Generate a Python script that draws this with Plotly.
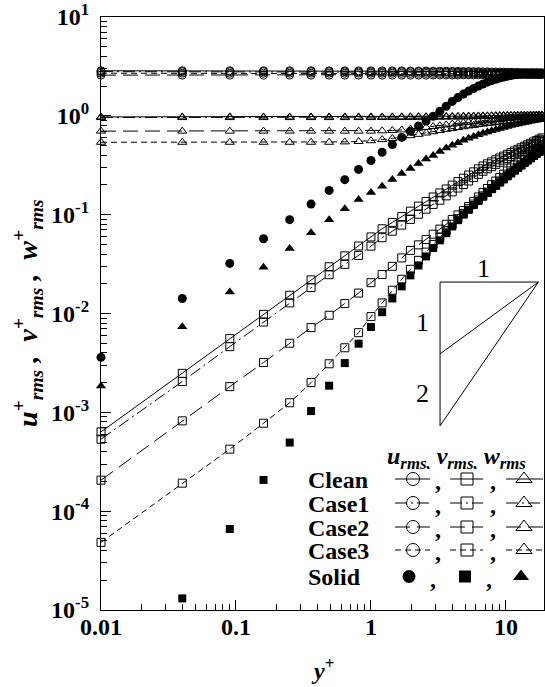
import plotly.graph_objects as go

# ---------------- data ----------------
y_plus = [0.01, 0.04, 0.09, 0.16, 0.25, 0.36, 0.49, 0.64, 0.81, 1.00,
          1.21, 1.44, 1.69, 1.96, 2.25, 2.56, 2.89, 3.24, 3.61, 4.00,
          4.41, 4.84, 5.29, 5.76, 6.25, 6.76, 7.29, 7.84, 8.41, 9.00,
          9.61, 10.24, 10.89, 11.56, 12.25, 12.96, 13.69, 14.44, 15.21, 16.00,
          16.81, 17.64, 18.49, 19.36]

u_clean = [2.86, 2.86, 2.86, 2.86, 2.86, 2.86, 2.85, 2.85, 2.85, 2.85, 2.85, 2.85, 2.85, 2.84,
           2.84, 2.84, 2.83, 2.83, 2.83, 2.82, 2.82, 2.81, 2.81, 2.80, 2.80,
           2.79, 2.79, 2.78, 2.78, 2.77, 2.77, 2.76, 2.76, 2.75, 2.75,
           2.74, 2.74, 2.73, 2.73, 2.72, 2.72, 2.71, 2.71, 2.70]
u_case1 = [2.80, 2.80, 2.80, 2.80, 2.80, 2.80, 2.80, 2.79, 2.79, 2.79, 2.79, 2.79, 2.79, 2.79,
           2.79, 2.78, 2.78, 2.77, 2.77, 2.76, 2.76, 2.75, 2.75, 2.74, 2.74,
           2.73, 2.73, 2.72, 2.72, 2.71, 2.71, 2.70, 2.70, 2.69, 2.69,
           2.69, 2.68, 2.68, 2.68, 2.67, 2.67, 2.67, 2.66, 2.66]
u_case2 = [2.58, 2.58, 2.58, 2.58, 2.58, 2.58, 2.58, 2.58, 2.58, 2.58, 2.58, 2.58, 2.58, 2.58,
           2.58, 2.58, 2.59, 2.59, 2.59, 2.59, 2.59, 2.60, 2.60, 2.60, 2.60,
           2.61, 2.61, 2.61, 2.61, 2.62, 2.62, 2.62, 2.62, 2.62, 2.62,
           2.62, 2.62, 2.62, 2.62, 2.62, 2.62, 2.62, 2.62, 2.62]
u_case3 = [2.70, 2.70, 2.70, 2.70, 2.70, 2.70, 2.70, 2.70, 2.70, 2.70, 2.70, 2.70, 2.69, 2.69,
           2.69, 2.69, 2.69, 2.68, 2.68, 2.68, 2.68, 2.68, 2.67, 2.67, 2.67,
           2.67, 2.66, 2.66, 2.66, 2.66, 2.66, 2.65, 2.65, 2.65, 2.65,
           2.65, 2.65, 2.64, 2.64, 2.64, 2.64, 2.64, 2.64, 2.64]
u_solid = [0.0036, 0.0142, 0.0321, 0.057, 0.089, 0.128, 0.176, 0.226, 0.287, 0.353,
           0.428, 0.513, 0.605, 0.698, 0.79, 0.885, 0.99, 1.11, 1.25, 1.40,
           1.53, 1.66, 1.78, 1.89, 2.00, 2.10, 2.19, 2.27, 2.34, 2.41,
           2.47, 2.52, 2.56, 2.60, 2.63, 2.66, 2.68, 2.70, 2.71, 2.72,
           2.72, 2.72, 2.71, 2.70]

v_clean = [6.34e-4, 2.48e-3, 5.57e-3, 9.8e-3, 0.0153, 0.0219, 0.0297, 0.0383, 0.0482, 0.0595,
           0.072, 0.0835, 0.0956, 0.1085, 0.122, 0.136, 0.151, 0.166, 0.182, 0.199,
           0.216, 0.234, 0.252, 0.271, 0.291, 0.311, 0.327, 0.342, 0.359, 0.375,
           0.391, 0.407, 0.424, 0.441, 0.458, 0.475, 0.492, 0.509, 0.527, 0.545,
           0.562, 0.580, 0.598, 0.616]
v_case1 = [5.35e-4, 2.05e-3, 4.62e-3, 8.2e-3, 0.0128, 0.0183, 0.0247, 0.0314, 0.0387, 0.048,
           0.0585, 0.068, 0.0784, 0.0895, 0.101, 0.1136, 0.127, 0.140, 0.155, 0.170,
           0.186, 0.202, 0.219, 0.237, 0.256, 0.275, 0.291, 0.306, 0.323, 0.339,
           0.356, 0.371, 0.388, 0.405, 0.421, 0.438, 0.456, 0.473, 0.492, 0.510,
           0.528, 0.547, 0.566, 0.585]
v_case2 = [2.06e-4, 8.2e-4, 1.82e-3, 3.19e-3, 5.0e-3, 7.2e-3, 9.6e-3, 0.0126, 0.0161, 0.0205,
           0.0248, 0.030, 0.0365, 0.0435, 0.0495, 0.056, 0.0635, 0.0715, 0.080, 0.0895,
           0.0995, 0.110, 0.121, 0.136, 0.151, 0.167, 0.184, 0.201, 0.219, 0.238,
           0.257, 0.277, 0.297, 0.318, 0.339, 0.360, 0.382, 0.404, 0.426, 0.448,
           0.470, 0.493, 0.515, 0.538]
v_case3 = [4.83e-5, 1.92e-4, 4.24e-4, 7.76e-4, 1.25e-3, 2.0e-3, 3.1e-3, 4.5e-3, 6.4e-3, 0.0093,
           0.0128, 0.0172, 0.0222, 0.028, 0.0345, 0.0418, 0.050, 0.059, 0.069, 0.080,
           0.091, 0.103, 0.115, 0.128, 0.141, 0.155, 0.169, 0.184, 0.199, 0.215,
           0.231, 0.248, 0.265, 0.283, 0.301, 0.319, 0.338, 0.357, 0.376, 0.396,
           0.416, 0.436, 0.456, 0.476]
v_solid = [None, 1.31e-5, 6.6e-5, 2.07e-4, 4.95e-4, 1.03e-3, 1.86e-3, 3.15e-3, 4.95e-3, 7.3e-3,
           0.0103, 0.0142, 0.0188, 0.0243, 0.0306, 0.0378, 0.046, 0.055, 0.065, 0.076,
           0.088, 0.100, 0.112, 0.125, 0.138, 0.152, 0.166, 0.181, 0.196, 0.212,
           0.228, 0.245, 0.262, 0.280, 0.298, 0.316, 0.335, 0.354, 0.373, 0.393,
           0.413, 0.433, 0.453, 0.473]

w_clean = [0.975, 0.975, 0.975, 0.975, 0.975, 0.975, 0.975, 0.975, 0.975, 0.975,
           0.976, 0.977, 0.978, 0.979, 0.980, 0.981, 0.982, 0.984, 0.986, 0.988,
           0.990, 0.992, 0.994, 0.996, 0.998, 1.000, 1.002, 1.004, 1.006, 1.008,
           1.010, 1.012, 1.013, 1.014, 1.015, 1.016, 1.017, 1.018, 1.019, 1.020,
           1.021, 1.022, 1.023, 1.024]
w_case1 = [0.960, 0.960, 0.960, 0.960, 0.960, 0.960, 0.960, 0.960, 0.960, 0.960,
           0.961, 0.962, 0.963, 0.964, 0.965, 0.966, 0.967, 0.969, 0.971, 0.973,
           0.975, 0.977, 0.979, 0.981, 0.983, 0.985, 0.987, 0.989, 0.991, 0.993,
           0.995, 0.997, 0.998, 0.999, 1.000, 1.001, 1.002, 1.003, 1.004, 1.005,
           1.006, 1.007, 1.008, 1.009]
w_case2 = [0.70, 0.70, 0.70, 0.70, 0.70, 0.70, 0.70, 0.70, 0.70, 0.70,
           0.705, 0.71, 0.72, 0.735, 0.75, 0.765, 0.78, 0.795, 0.81, 0.825,
           0.84, 0.85, 0.86, 0.87, 0.88, 0.89, 0.90, 0.91, 0.92, 0.93,
           0.935, 0.94, 0.95, 0.955, 0.96, 0.965, 0.97, 0.975, 0.98, 0.985,
           0.99, 0.99, 0.995, 1.0]
w_case3 = [0.54, 0.54, 0.54, 0.54, 0.54, 0.54, 0.54, 0.545, 0.55, 0.56,
           0.575, 0.59, 0.61, 0.63, 0.65, 0.67, 0.69, 0.71, 0.73, 0.745,
           0.76, 0.775, 0.79, 0.80, 0.815, 0.825, 0.835, 0.845, 0.855, 0.865,
           0.875, 0.885, 0.89, 0.90, 0.91, 0.915, 0.92, 0.93, 0.935, 0.94,
           0.945, 0.95, 0.955, 0.96]
w_solid = [0.00185, 0.00736, 0.0165, 0.0294, 0.0455, 0.0655, 0.089, 0.115, 0.142, 0.168,
           0.194, 0.227, 0.261, 0.293, 0.329, 0.365, 0.398, 0.436, 0.474, 0.505,
           0.535, 0.565, 0.592, 0.618, 0.642, 0.665, 0.687, 0.707, 0.727, 0.746,
           0.764, 0.781, 0.797, 0.812, 0.827, 0.841, 0.855, 0.868, 0.880, 0.892,
           0.903, 0.914, 0.924, 0.934]

case_names = ["Clean", "Case1", "Case2", "Case3", "Solid"]
x_tick_vals = [0.01, 0.1, 1, 10]
x_tick_text = ["0.01", "0.1", "1", "10"]
y_tick_vals = [1e-5, 1e-4, 1e-3, 1e-2, 1e-1, 1e0, 1e1]
y_tick_text = ["10<sup>-5</sup>", "10<sup>-4</sup>", "10<sup>-3</sup>", "10<sup>-2</sup>",
               "10<sup>-1</sup>", "10<sup>0</sup>", "10<sup>1</sup>"]

# slope-indicator triangle (data coordinates)
tri_x = [3.25, 3.25, 17.4, 3.25, None, 17.4, 3.25]
tri_y = [7.3e-4, 0.0208, 0.0208, 7.3e-4, None, 0.0208, 3.9e-3]

# ---------------- styling ----------------
FONT = "Liberation Serif"
DASH = {"Clean": "solid", "Case1": "12px,4px,2px,4px", "Case2": "15px,7px", "Case3": "6px,4px"}
L, R, T, B = 101, 1, 17, 77
W, H = 545, 687
PW, PH = W - L - R, H - T - B
NB = "\u00a0"


def px(xp):
    return (xp - L) / PW


def py(yp):
    return (H - B - yp) / PH


fig = go.Figure()

series = {"Clean": (u_clean, v_clean, w_clean), "Case1": (u_case1, v_case1, w_case1),
          "Case2": (u_case2, v_case2, w_case2), "Case3": (u_case3, v_case3, w_case3)}
open_syms = ["circle-open", "square-open", "triangle-up-open"]
for name in ["Clean", "Case1", "Case2", "Case3"]:
    for vals, sym in zip(series[name], open_syms):
        fig.add_trace(go.Scatter(
            x=y_plus, y=vals, mode="lines+markers", cliponaxis=False,
            line=dict(color="black", width=1, dash=DASH[name]),
            marker=dict(symbol=sym, size=8, color="black", line=dict(width=1, color="black")),
            showlegend=False, hoverinfo="skip"))

for vals, sym, sz in [(u_solid, "circle", 9), (v_solid, "square", 8), (w_solid, "triangle-up", 9)]:
    fig.add_trace(go.Scatter(
        x=y_plus, y=vals, mode="markers", cliponaxis=False,
        marker=dict(symbol=sym, size=sz, color="black", line=dict(width=0)),
        showlegend=False, hoverinfo="skip"))

fig.add_trace(go.Scatter(x=tri_x, y=tri_y, mode="lines", line=dict(color="black", width=1),
                         showlegend=False, hoverinfo="skip"))

# ---------------- custom legend on a pixel-space overlay ----------------
row_y = {"Clean": 479, "Case1": 503, "Case2": 527, "Case3": 550, "Solid": 576.5}
cols = [(395, 430, 413, "circle-open", 13), (450, 483, 467, "square-open", 12),
        (506, 543, 524, "triangle-up-open", 14)]
annotations = []


def txt(xp, yp, text, size=24, xanchor="center", angle=0, height=None):
    d = dict(x=px(xp), y=py(yp), xref="paper", yref="paper", text=text, showarrow=False,
             xanchor=xanchor, yanchor="middle", textangle=angle,
             font=dict(family=FONT, size=size, color="black"))
    if height is not None:
        d["height"] = height
    return d


for name in case_names:
    ry = row_y[name]
    annotations.append(txt(306, ry, "<b>%s</b>" % name, xanchor="left", height=21))
    if name == "Solid":
        for xc, sym, sz in [(409, "circle", 13), (465, "square", 12), (521, "triangle-up", 14)]:
            fig.add_trace(go.Scatter(x=[xc], y=[ry], xaxis="x2", yaxis="y2", mode="markers",
                                     marker=dict(symbol=sym, size=sz, color="black"),
                                     showlegend=False, hoverinfo="skip"))
        comma_x = [433, 489]
    else:
        for x0, x1, xc, sym, sz in cols:
            fig.add_trace(go.Scatter(x=[x0, x1], y=[ry, ry], xaxis="x2", yaxis="y2", mode="lines",
                                     line=dict(color="black", width=1, dash=DASH[name]),
                                     showlegend=False, hoverinfo="skip"))
            fig.add_trace(go.Scatter(x=[xc], y=[ry], xaxis="x2", yaxis="y2", mode="markers",
                                     marker=dict(symbol=sym, size=sz, color="black",
                                                 line=dict(width=1, color="black")),
                                     showlegend=False, hoverinfo="skip"))
        comma_x = [438, 493]
    for cx in comma_x:
        annotations.append(txt(cx, ry + 2, "<b>,</b>"))

annotations.append(txt(385, 458,
                       "<b><i>u<sub>rms,</sub> v<sub>rms,</sub> w<sub>rms</sub></i></b>",
                       xanchor="left", height=22))

# slope labels
for tx, ty, t in [(483, 268, "1"), (422, 322, "1"), (422, 393, "2")]:
    annotations.append(txt(tx, ty, t, size=26))

# axis titles
annotations.append(txt(322, 669, "<b><i>y<sup>+</sup></i></b>"))
ytitle = ("<b><i>u<sup>+</sup><sub>rms</sub>" + NB + "," + NB + NB +
          "v<sup>+</sup><sub>rms</sub>" + NB + "," + NB + NB +
          "w<sup>+</sup><sub>rms</sub></i></b>")
annotations.append(txt(27, 313, ytitle, size=28, angle=-90))

x_minor = [m * 10 ** e for e in range(-2, 2) for m in range(2, 10)]
y_minor = [m * 10.0 ** e for e in range(-5, 1) for m in range(2, 10)]

fig.update_layout(
    width=W, height=H,
    margin=dict(l=L, r=R, t=T, b=B),
    paper_bgcolor="white", plot_bgcolor="white",
    showlegend=False,
    xaxis=dict(type="log", range=[-2, 1.282], tickvals=x_tick_vals, ticktext=x_tick_text,
               ticks="inside", ticklen=10, tickwidth=1, tickcolor="black",
               showline=True, linewidth=1.2, linecolor="black", mirror=True,
               showgrid=False, zeroline=False, ticklabelstandoff=-5,
               tickfont=dict(family=FONT, size=24, color="black", weight="bold"),
               minor=dict(tickvals=x_minor, ticks="inside", ticklen=6, tickwidth=1,
                          tickcolor="black", showgrid=False)),
    yaxis=dict(type="log", range=[-5, 1], tickvals=y_tick_vals, ticktext=y_tick_text,
               ticks="inside", ticklen=10, tickwidth=1, tickcolor="black",
               showline=True, linewidth=1.2, linecolor="black", mirror=True,
               showgrid=False, zeroline=False, ticklabelstandoff=6,
               tickfont=dict(family=FONT, size=24, color="black", weight="bold"),
               minor=dict(tickvals=y_minor, ticks="inside", ticklen=6, tickwidth=1,
                          tickcolor="black", showgrid=False)),
    xaxis2=dict(overlaying="x", range=[L, W - R], visible=False, fixedrange=True),
    yaxis2=dict(overlaying="y", range=[H - B, T], visible=False, fixedrange=True),
    annotations=annotations,
)

fig.write_html("out.html", config={"displayModeBar": False},
               post_script="document.body.style.margin='0';")
